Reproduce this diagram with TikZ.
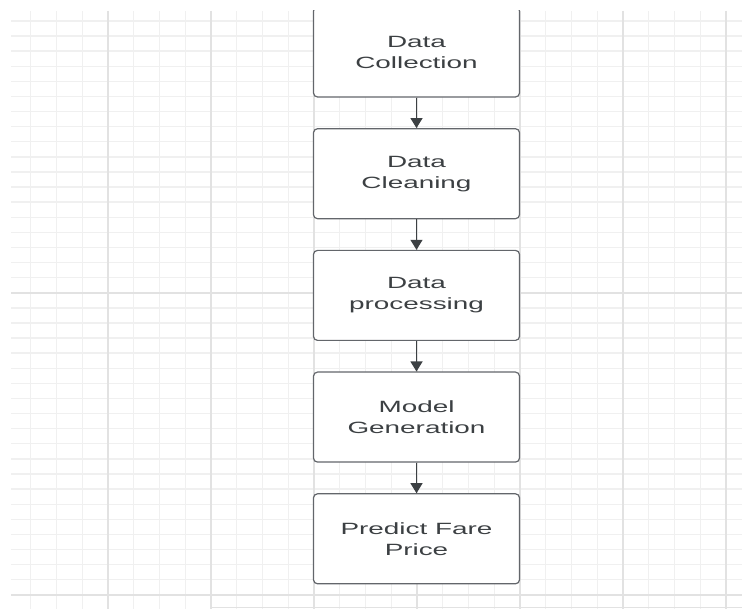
\documentclass[tikz,border=0pt]{standalone}
\usepackage{fontspec}
\newfontfamily\boxfont[FakeStretch=1.71]{Liberation Sans}
\usepackage{tikz}
\usetikzlibrary{arrows.meta,positioning}
\definecolor{gridminor}{HTML}{F0F0F0}
\definecolor{gridmajor}{HTML}{E2E2E2}
\definecolor{edge}{HTML}{63666B}
\definecolor{ink}{HTML}{3C4043}

\begin{document}
\begin{tikzpicture}[
  x=1pt,y=-1pt,
  node distance=30.5pt,
  box/.style={draw=edge,fill=white,line width=1.2pt,rounded corners=4pt,align=center,minimum width=206pt,minimum height=90pt,inner sep=0pt,text=ink,font=\boxfont\fontsize{16.3}{21}\selectfont},
  flow/.style={-{Triangle[length=10pt,width=12pt]},draw=ink,line width=1.2pt},
  minor/.style={draw=gridminor,line width=1.4pt},
  major/.style={draw=gridmajor,line width=1.6pt},
]
\useasboundingbox (0,0) rectangle (742,609);
\begin{scope}
\clip (11,11) rectangle (742,609);
% background grid of the drawing canvas
\foreach \k in {0,...,38} \draw[minor] (11,{21+15.1*\k}) -- (742,{21+15.1*\k});
\foreach \k in {0,...,27} \draw[minor] ({30.7+25.75*\k},11) -- ({30.7+25.75*\k},609);
\foreach \k in {18,38} \draw[major] (11,{21+15.1*\k}) -- (742,{21+15.1*\k});
\foreach \k in {3,7,...,27} \draw[major] ({30.7+25.75*\k},11) -- ({30.7+25.75*\k},609);
\draw[major] (211,607.5) -- (742,607.5);

\node[box] (collect) at (416.5,52) {Data\\Collection};
\node[box,below=of collect] (clean) {Data\\Cleaning};
\node[box,below=of clean] (process) {Data\\processing};
\node[box,below=of process] (model) {Model\\Generation};
\node[box,below=of model] (predict) {Predict Fare\\Price};

\draw[flow] (collect) -- (clean);
\draw[flow] (clean) -- (process);
\draw[flow] (process) -- (model);
\draw[flow] (model) -- (predict);
\end{scope}
\end{tikzpicture}
\end{document}
